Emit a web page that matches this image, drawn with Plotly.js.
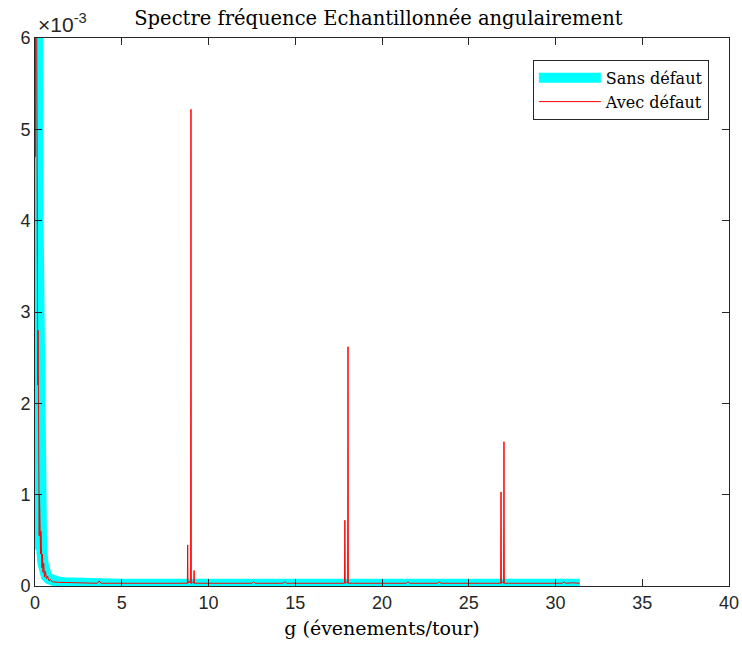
<!DOCTYPE html>
<html>
<head>
<meta charset="utf-8">
<script src="https://cdn.plot.ly/plotly-3.0.1.min.js"></script>
<style>html,body{margin:0;padding:0;background:#fff;}#chart{width:742px;height:649px;}</style>
</head>
<body>
<div id="chart"></div>
<script>
// Values in units of 1e-3
var sansDefautX = [0, 0.03, 0.06, 0.10, 0.14, 0.18, 0.22, 0.27, 0.32, 0.38, 0.46, 0.55, 0.65, 0.80, 1.0, 1.3, 1.7, 2.5, 5, 10, 15, 20, 25, 30, 31.4];
var sansDefautY = [0.40, 3.0, 9.0, 8.5, 7.0, 4.0, 2.0, 1.1, 0.65, 0.42, 0.25, 0.16, 0.11, 0.08, 0.06, 0.045, 0.035, 0.03, 0.02, 0.02, 0.02, 0.02, 0.02, 0.02, 0.02];

var avecDefautX = [0, 0.02, 0.04, 0.06, 0.08, 0.10, 0.12, 0.14, 0.16, 0.18, 0.20, 0.22, 0.24, 0.26, 0.28, 0.30, 0.32, 0.34, 0.36, 0.38, 0.40, 0.43, 0.46, 0.50, 0.55, 0.60, 0.66, 0.72, 0.80, 0.90, 1.0, 1.4, 2.0, 3.0,
  3.6, 3.7, 3.8, 5.0, 7.0, 8.6,
  8.78, 8.80, 8.82, 8.90, 8.97, 8.99, 9.01, 9.08, 9.15, 9.17, 9.19, 9.4,
  11.0, 12.5, 12.6, 12.7, 14.3, 14.4, 14.5, 16.0, 17.6,
  17.84, 17.86, 17.88, 17.96, 18.02, 18.04, 18.06, 18.3,
  20.0, 21.4, 21.5, 21.6, 23.2, 23.3, 23.4, 25.0, 26.6,
  26.84, 26.86, 26.88, 26.96, 27.01, 27.03, 27.05, 27.3,
  29.0, 30.4, 30.5, 30.6, 31.0, 31.4];
var avecDefautY = [5.3, 4.7, 7.5, 9.0, 8.0, 6.0, 3.6, 4.5, 2.2, 2.8, 1.0, 1.6, 0.55, 1.0, 0.5, 0.8, 0.35, 0.6, 0.25, 0.45, 0.2, 0.35, 0.15, 0.25, 0.1, 0.16, 0.08, 0.11, 0.06, 0.07, 0.045, 0.04, 0.035, 0.03,
  0.03, 0.055, 0.03, 0.03, 0.03, 0.03,
  0.03, 0.45, 0.03, 0.05, 0.03, 5.22, 0.03, 0.04, 0.03, 0.17, 0.03, 0.03,
  0.03, 0.03, 0.045, 0.03, 0.03, 0.045, 0.03, 0.03, 0.03,
  0.03, 0.72, 0.03, 0.04, 0.03, 2.62, 0.03, 0.03,
  0.03, 0.03, 0.045, 0.03, 0.03, 0.045, 0.03, 0.03, 0.03,
  0.03, 1.03, 0.03, 0.04, 0.03, 1.58, 0.03, 0.03,
  0.03, 0.03, 0.045, 0.03, 0.035, 0.03];

var xTicks = [0, 5, 10, 15, 20, 25, 30, 35, 40];
var yTicks = [0, 1, 2, 3, 4, 5, 6];

var axisColor = '#262626';
var serif = 'DejaVu Serif, serif';
var sans = 'Liberation Sans, Arial, sans-serif';

var traces = [
  {x: sansDefautX, y: sansDefautY, mode: 'lines', name: 'Sans défaut',
   line: {color: '#00ffff', width: 11}},
  {x: avecDefautX, y: avecDefautY, mode: 'lines', name: 'Avec défaut',
   line: {color: '#ff0000', width: 1}}
];

var layout = {
  width: 742, height: 649,
  margin: {l: 35, r: 13, t: 38, b: 63},
  paper_bgcolor: '#fff', plot_bgcolor: '#fff',
  showlegend: true,
  title: {text: 'Spectre fréquence Echantillonnée angulairement', font: {family: serif, size: 19.5, color: '#000'}, x: 0.51, xanchor: 'center', y: 0.972, yanchor: 'middle'},
  xaxis: {
    range: [0, 40], tickvals: xTicks, ticktext: xTicks.map(String),
    ticks: 'inside', ticklen: 7, tickcolor: axisColor, tickwidth: 1,
    showline: true, linecolor: axisColor, linewidth: 1, mirror: 'ticks',
    showgrid: false, zeroline: false,
    tickfont: {family: sans, size: 18, color: axisColor},
    title: {text: 'g (évenements/tour)', font: {family: serif, size: 19, color: '#000'}, standoff: 10}
  },
  yaxis: {
    range: [0, 6], tickvals: yTicks, ticktext: yTicks.map(String),
    ticks: 'inside', ticklen: 7, tickcolor: axisColor, tickwidth: 1,
    showline: true, linecolor: axisColor, linewidth: 1, mirror: 'ticks',
    showgrid: false, zeroline: false,
    tickfont: {family: sans, size: 18, color: axisColor}
  },
  legend: {
    x: 0.971, y: 0.96, xanchor: 'right', yanchor: 'top',
    bgcolor: '#fff', bordercolor: axisColor, borderwidth: 1,
    font: {family: serif, size: 16, color: '#000'},
    itemwidth: 62, tracegroupgap: 0
  },
  annotations: [{
    xref: 'paper', yref: 'paper', x: 0, y: 1, xanchor: 'left', yanchor: 'bottom', yshift: 0, xshift: 1,
    text: '×10<sup>-3</sup>', showarrow: false,
    font: {family: sans, size: 21, color: axisColor}
  }]
};

Plotly.newPlot('chart', traces, layout, {displayModeBar: false});
</script>
</body>
</html>
